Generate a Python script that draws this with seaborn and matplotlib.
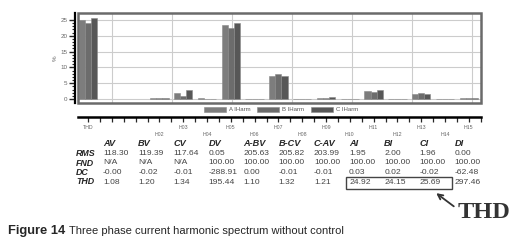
import numpy as np
import pandas as pd
import matplotlib
matplotlib.use("Agg")
import matplotlib.pyplot as plt
from matplotlib.patches import Rectangle, Patch
import seaborn as sns

# harmonic spectrum (percent of fundamental)
harmonics = ["THD", "H02", "H03", "H04", "H05", "H06", "H07", "H08",
             "H09", "H10", "H11", "H12", "H13", "H14", "H15"]
a_harm = [24.92, 0.25, 1.8, 0.2, 23.4, 0.08, 7.2, 0.08, 0.45, 0.08, 2.5, 0.08, 1.5, 0.08, 0.25]
b_harm = [24.15, 0.2, 0.95, 0.15, 22.6, 0.08, 7.9, 0.08, 0.4, 0.08, 2.1, 0.08, 1.8, 0.08, 0.2]
c_harm = [25.69, 0.25, 2.75, 0.15, 24.1, 0.08, 7.4, 0.08, 0.65, 0.08, 2.85, 0.08, 1.6, 0.08, 0.35]
phases = ["A IHarm", "B IHarm", "C IHarm"]

# measurement table
cols = ["AV", "BV", "CV", "DV", "A-BV", "B-CV", "C-AV", "AI", "BI", "CI", "DI"]
row_names = ["RMS", "FND", "DC", "THD"]
rms = ["118.30", "119.39", "117.64", "0.05", "205.63", "205.82", "203.99", "1.95", "2.00", "1.96", "0.00"]
fnd = ["N/A", "N/A", "N/A", "100.00", "100.00", "100.00", "100.00", "100.00", "100.00", "100.00", "100.00"]
dc = ["-0.00", "-0.02", "-0.01", "-288.91", "0.00", "-0.01", "-0.01", "0.03", "0.02", "-0.02", "-62.48"]
thd = ["1.08", "1.20", "1.34", "195.44", "1.10", "1.32", "1.21", "24.92", "24.15", "25.69", "297.46"]

sns.set_style("white")
plt.rcParams["font.family"] = ["Liberation Sans", "DejaVu Sans"]

# THD slot sits apart from the harmonic orders
slots = [0] + list(range(3, 3 + len(harmonics) - 1))

rows = []
for ph, vals in zip(phases, [a_harm, b_harm, c_harm]):
    for s, h, v in zip(slots, harmonics, vals):
        rows.append({"pos": s, "harm": h, "phase": ph, "value": v})
df = pd.DataFrame(rows)

W, H = 519, 240
fig = plt.figure(figsize=(W / 100, H / 100), dpi=100)

def px_axes(x0, y0, x1, y1):
    return fig.add_axes([x0 / W, 1 - y1 / H, (x1 - x0) / W, (y1 - y0) / H])

colors = ["#7d7d7d", "#6c6c6c", "#575757"]

ax = px_axes(78, 13, 481, 103)
sns.barplot(data=df, x="pos", y="value", hue="phase", native_scale=True,
            palette=colors, width=0.77, ax=ax, legend=False,
            edgecolor="#8a8a8a", linewidth=0.4, saturation=1)
xlim = (-0.42, 16.51)
ax.set_xlim(*xlim)
ax.set_ylim(-1.25, 27.2)
ax.set_xticks([])
ax.set_xlabel("")
ax.set_yticks(np.arange(0, 26, 5))
ax.set_yticks(np.arange(0, 26, 1), minor=True)
ax.tick_params(axis="y", which="major", length=4, width=1, labelsize=4.5,
               labelcolor="#666666", pad=1.0, left=True)
ax.tick_params(axis="y", which="minor", length=2.2, width=0.8, left=True)
ax.set_ylabel("%", fontsize=4.5, color="#666666", labelpad=2)
for y in np.arange(0, 26, 5):
    ax.axhline(y, color="#cccccc", lw=0.8, zorder=0)
for x in 1.0 + 2.52 * np.arange(7):
    ax.axvline(x, color="#cccccc", lw=0.8, zorder=0)
for s in ["top", "right", "bottom"]:
    ax.spines[s].set_visible(False)
ax.spines["left"].set_position(("outward", 2.5))
ax.spines["left"].set_linewidth(1.6)
ax.spines["left"].set_color("black")
ax.add_patch(Rectangle((0, 0), 1, 1, transform=ax.transAxes, fill=False,
                       edgecolor="#6a6a6a", lw=1.8, clip_on=False, zorder=5))

handles = [Patch(facecolor=c, edgecolor="#8a8a8a", linewidth=0.4) for c in colors]
fig.legend(handles, phases, loc="center", bbox_to_anchor=(281 / W, 1 - 109.5 / H),
           ncol=3, frameon=False, fontsize=4.3, handlelength=3.6, handleheight=0.9,
           columnspacing=1.2, handletextpad=0.5, labelcolor="#555555")

# harmonic order axis
ax2 = px_axes(78, 117, 481, 140)
ax2.set_xlim(*xlim)
ax2.set_ylim(0, 1)
for s in ["left", "right", "bottom"]:
    ax2.spines[s].set_visible(False)
ax2.spines["top"].set_linewidth(1.8)
ax2.spines["top"].set_color("black")
ax2.xaxis.set_ticks_position("top")
ax2.set_xticks(np.arange(0, 16.6, 0.5))
ax2.set_xticklabels([])
ax2.tick_params(axis="x", direction="in", length=3.5, width=0.9, top=True, bottom=False)
ax2.set_yticks([])
ax2.patch.set_alpha(0)
for i, (s, h) in enumerate(zip(slots, harmonics)):
    yy = 0.54 if i % 2 == 0 else 0.25
    ax2.text(s, yy, h, ha="center", va="center", fontsize=3.8, color="#666666")

# table and annotations on a pixel overlay
ov = fig.add_axes([0, 0, 1, 1])
ov.set_xlim(0, W)
ov.set_ylim(H, 0)
ov.axis("off")
ov.patch.set_alpha(0)

col_x = 103 + 35.15 * np.arange(len(cols))
row_y = [153.5, 163, 172.5, 182]
for x, c in zip(col_x, cols):
    ov.text(x, 144, c, fontsize=6.6, fontweight="bold", fontstyle="italic",
            ha="left", va="center")
for y, name, vals in zip(row_y, row_names, [rms, fnd, dc, thd]):
    ov.text(76, y, name, fontsize=6.4, fontweight="bold", fontstyle="italic",
            ha="left", va="center")
    for x, v in zip(col_x, vals):
        ov.text(x, y, v, fontsize=6.1, color="#444444", ha="left", va="center")

ov.add_patch(Rectangle((345.5, 177), 106.5, 11.5, fill=False, edgecolor="#444444", lw=1.0))
ov.annotate("", xy=(434, 191.5), xytext=(456, 208),
            arrowprops=dict(arrowstyle="->", lw=1.3, color="#333333",
                            mutation_scale=9))
ov.text(458, 218, "THD", fontsize=17.5, fontweight="bold", color="#333333",
        family=["Liberation Serif", "DejaVu Serif"], ha="left", va="baseline")

ov.text(8, 234, "Figure 14", fontsize=9.3, fontweight="bold", ha="left", va="baseline")
ov.text(69, 234, "Three phase current harmonic spectrum without control",
        fontsize=8.0, ha="left", va="baseline")

fig.savefig("out.png", dpi=100)
